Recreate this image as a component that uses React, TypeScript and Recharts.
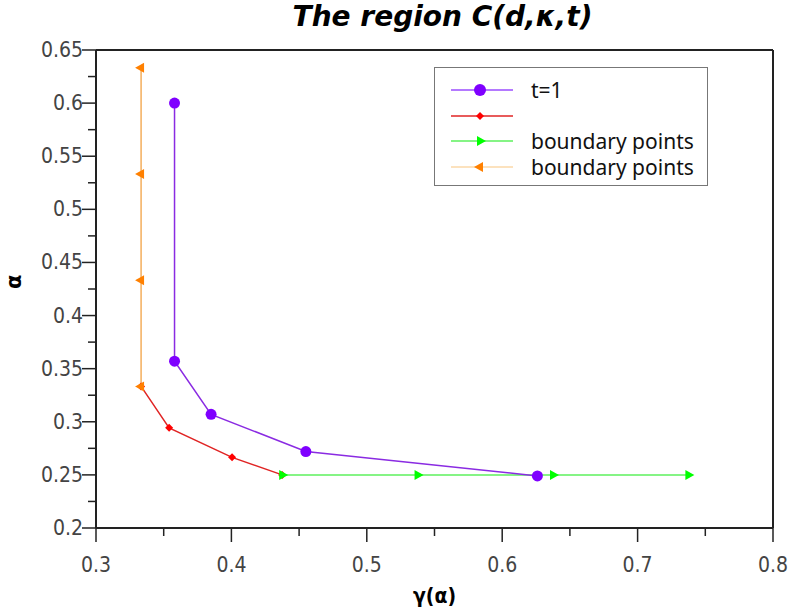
import React from "react";
import { ComposedChart, Line, XAxis, YAxis, ReferenceLine, Label } from "recharts";

// t=1 curve
const tOneGamma = [0.358, 0.358, 0.385, 0.455, 0.626];
const tOneAlpha = [0.6, 0.357, 0.307, 0.272, 0.249];
// red lower curve
const lowerGamma = [0.3333, 0.354, 0.4005, 0.4375];
const lowerAlpha = [0.3333, 0.2943, 0.2665, 0.25];
// boundary points (green, horizontal)
const bottomGamma = [0.4375, 0.5375, 0.6375, 0.7375];
const bottomAlpha = [0.25, 0.25, 0.25, 0.25];
// boundary points (orange, vertical)
const leftGamma = [0.3333, 0.3333, 0.3333, 0.3333];
const leftAlpha = [0.3333, 0.4333, 0.5333, 0.6333];

const xTicks = [0.3, 0.35, 0.4, 0.45, 0.5, 0.55, 0.6, 0.65, 0.7, 0.75, 0.8];
const yTicks = [0.2, 0.225, 0.25, 0.275, 0.3, 0.325, 0.35, 0.375, 0.4, 0.425, 0.45, 0.475, 0.5, 0.525, 0.55, 0.575, 0.6, 0.625, 0.65];

const toRows = (xs: number[], ys: number[]) => xs.map((g, i) => ({ g, a: ys[i] }));

const tickFont = "'DejaVu Sans Condensed', 'Liberation Sans Narrow', sans-serif";
const legendFont = "'Noto Sans', 'Open Sans', sans-serif";

const isMajor = (v: number, step: number) => Math.abs(Math.round(v / step) * step - v) < 1e-6;

const XTick = (props: any) => {
  const { x, y, payload } = props;
  const major = isMajor(payload.value, 0.1);
  return (
    <g>
      <line x1={x} x2={x} y1={y} y2={y + (major ? 14 : 8)} stroke="#222" strokeWidth={1.5} />
      {major && (
        <text x={x} y={y + 44} textAnchor="middle" fill="#444" fontSize={21} fontFamily={tickFont}>
          {payload.value.toFixed(1)}
        </text>
      )}
    </g>
  );
};

const YTick = (props: any) => {
  const { x, y, payload } = props;
  const major = isMajor(payload.value, 0.05);
  const label = String(Math.round(payload.value * 100) / 100);
  return (
    <g>
      <line x1={x} x2={x - (major ? 14 : 8)} y1={y} y2={y} stroke="#222" strokeWidth={1.5} />
      {major && (
        <text x={x - 13} y={y + 7} textAnchor="end" fill="#444" fontSize={21} fontFamily={tickFont}>
          {label}
        </text>
      )}
    </g>
  );
};

const Circle = (props: any) => {
  const { cx, cy, fill } = props;
  if (cx == null || cy == null) return null;
  return <circle cx={cx} cy={cy} r={5.5} fill={fill} />;
};

const Diamond = (props: any) => {
  const { cx, cy, fill } = props;
  if (cx == null || cy == null) return null;
  const s = 4;
  return <path d={`M${cx},${cy - s}L${cx + s},${cy}L${cx},${cy + s}L${cx - s},${cy}Z`} fill={fill} />;
};

const RightTri = (props: any) => {
  const { cx, cy, fill } = props;
  if (cx == null || cy == null) return null;
  return <path d={`M${cx - 3},${cy - 5}L${cx + 6},${cy}L${cx - 3},${cy + 5}Z`} fill={fill} />;
};

const LeftTri = (props: any) => {
  const { cx, cy, fill } = props;
  if (cx == null || cy == null) return null;
  return <path d={`M${cx + 3},${cy - 5}L${cx - 6},${cy}L${cx + 3},${cy + 5}Z`} fill={fill} />;
};

const legendItems = [
  { label: "t=1", line: "#9b4dff", mark: "#7f00ff", shape: "circle" },
  { label: "", line: "#e02424", mark: "#ff0000", shape: "diamond" },
  { label: "boundary points", line: "#5cf05c", mark: "#00ff00", shape: "right" },
  { label: "boundary points", line: "#fbd9a8", mark: "#ff8000", shape: "left" },
];

const LegendIcon = ({ item }: { item: (typeof legendItems)[number] }) => (
  <svg width={62} height={16} style={{ display: "block" }}>
    <line x1={0} x2={62} y1={8} y2={8} stroke={item.line} strokeWidth={1.5} />
    {item.shape === "circle" && <circle cx={29} cy={8} r={6} fill={item.mark} />}
    {item.shape === "diamond" && <path d="M29,4L33,8L29,12L25,8Z" fill={item.mark} />}
    {item.shape === "right" && <path d="M26,3L35,8L26,13Z" fill={item.mark} />}
    {item.shape === "left" && <path d="M32,3L23,8L32,13Z" fill={item.mark} />}
  </svg>
);

export default function App() {
  return (
    <div style={{ position: "absolute", left: 0, top: 0, width: 789, height: 613, background: "#fff" }}>
      <div
        style={{
          position: "absolute",
          left: 0,
          width: 789,
          top: 0,
          textAlign: "center",
          paddingLeft: 96,
          boxSizing: "border-box",
          fontFamily: "'DejaVu Sans', sans-serif",
          fontWeight: "bold",
          fontStyle: "italic",
          fontSize: 28,
          lineHeight: "33px",
          color: "#000",
        }}
      >
        The region C(d,κ,t)
      </div>
      <ComposedChart width={789} height={613} margin={{ top: 50, right: 16, bottom: 55, left: 36 }}>
        <XAxis
          type="number"
          dataKey="g"
          domain={[0.3, 0.8]}
          ticks={xTicks}
          interval={0}
          allowDataOverflow
          tick={<XTick />}
          tickLine={false}
          tickSize={0}
          tickMargin={0}
          height={30}
          axisLine={{ stroke: "#222", strokeWidth: 2 }}
        >
          <Label
            value="γ(α)"
            position="insideBottom"
            offset={-45}
            style={{ fontFamily: "'DejaVu Sans Condensed', sans-serif", fontWeight: "bold", fontSize: 21, fill: "#000" }}
          />
        </XAxis>
        <YAxis
          type="number"
          domain={[0.2, 0.65]}
          ticks={yTicks}
          interval={0}
          allowDataOverflow
          tick={<YTick />}
          tickLine={false}
          tickSize={0}
          tickMargin={0}
          width={60}
          axisLine={{ stroke: "#222", strokeWidth: 2 }}
        >
          <Label
            value="α"
            angle={-90}
            position="insideLeft"
            offset={-22}
            style={{ fontFamily: "'DejaVu Sans', sans-serif", fontWeight: "bold", fontSize: 21, fill: "#000" }}
          />
        </YAxis>
        <ReferenceLine y={0.65} stroke="#222" strokeWidth={2} />
        <ReferenceLine x={0.8} stroke="#222" strokeWidth={2} />
        <Line
          data={toRows(lowerGamma, lowerAlpha)}
          dataKey="a"
          stroke="#e02424"
          strokeWidth={1.5}
          fill="#ff0000"
          dot={<Diamond fill="#ff0000" />}
          isAnimationActive={false}
        />
        <Line
          data={toRows(bottomGamma, bottomAlpha)}
          dataKey="a"
          stroke="#5cf05c"
          strokeWidth={1.5}
          dot={<RightTri fill="#00ff00" />}
          isAnimationActive={false}
        />
        <Line
          data={toRows(leftGamma, leftAlpha)}
          dataKey="a"
          stroke="#f4ae5c"
          strokeWidth={1.5}
          dot={<LeftTri fill="#ff8000" />}
          isAnimationActive={false}
        />
        <Line
          data={toRows(tOneGamma, tOneAlpha)}
          dataKey="a"
          stroke="#8a2be2"
          strokeWidth={1.5}
          dot={<Circle fill="#7f00ff" />}
          isAnimationActive={false}
        />
      </ComposedChart>
      <div
        style={{
          position: "absolute",
          left: 434,
          top: 67,
          width: 274,
          height: 119,
          boxSizing: "border-box",
          border: "1.5px solid #777",
          background: "#fff",
          paddingTop: 9,
        }}
      >
        {legendItems.map((item, i) => (
          <div key={i} style={{ display: "flex", alignItems: "center", height: 25.7, paddingLeft: 16 }}>
            <LegendIcon item={item} />
            <span style={{ marginLeft: 18, fontFamily: legendFont, fontSize: 21, color: "#111", lineHeight: "22px" }}>
              {item.label}
            </span>
          </div>
        ))}
      </div>
    </div>
  );
}
